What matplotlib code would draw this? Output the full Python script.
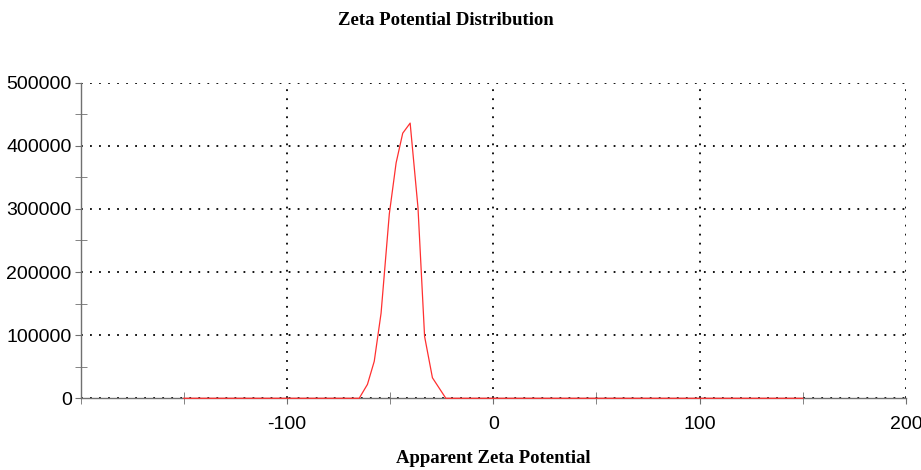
import matplotlib.pyplot as plt
from matplotlib.ticker import MultipleLocator, FuncFormatter

# data
zeta = [-150, -65.0, -61.0, -57.7, -54.4, -50.4, -47.1, -43.9, -40.3,
        -36.5, -33.3, -29.5, -23.0, 150]
counts = [0, 0, 22000, 58600, 134700, 292000, 373000, 420000, 436000,
          302000, 98000, 32500, 0, 0]

x_ticks = [-100, 0, 100, 200]
y_ticks = [0, 100000, 200000, 300000, 400000, 500000]

fig = plt.figure(figsize=(9.21, 4.70), dpi=100)
ax = fig.add_axes([0.0876, 0.1526, 0.896, 0.6714])

ax.plot(zeta, counts, color="#ff3030", lw=0.9, zorder=5, clip_on=False)

ax.set_xlim(-200, 200)
ax.set_ylim(0, 500000)
ax.set_xticks(x_ticks)
ax.set_yticks(y_ticks)
ax.xaxis.set_minor_locator(MultipleLocator(50))
ax.yaxis.set_minor_locator(MultipleLocator(50000))
ax.xaxis.set_major_formatter(FuncFormatter(lambda v, p: "%d" % v))
ax.yaxis.set_major_formatter(FuncFormatter(lambda v, p: "%d" % v))

for s in ["top", "right"]:
    ax.spines[s].set_visible(False)
for s in ["left", "bottom"]:
    ax.spines[s].set_color("#707070")
    ax.spines[s].set_linewidth(1.0)

ax.tick_params(which="major", direction="out", length=4, color="#707070",
               labelsize=14)
ax.tick_params(axis="x", which="major", pad=9)
ax.tick_params(axis="y", which="major", pad=2.5)
ax.tick_params(which="minor", direction="inout", length=8, color="#707070")
for lab in ax.get_xticklabels() + ax.get_yticklabels():
    lab.set_family("Liberation Sans")

ax.grid(True, which="major", color="black", linestyle=(0, (1, 4)), lw=1.3)

fig.text(0.484, 0.957, "Zeta Potential Distribution", family="Liberation Serif",
         fontweight="bold", fontsize=13.5, ha="center", va="center")
ax.set_xlabel("Apparent Zeta Potential", family="Liberation Serif",
              fontweight="bold", fontsize=13.5, labelpad=12)

fig.savefig("out.png", dpi=100)
